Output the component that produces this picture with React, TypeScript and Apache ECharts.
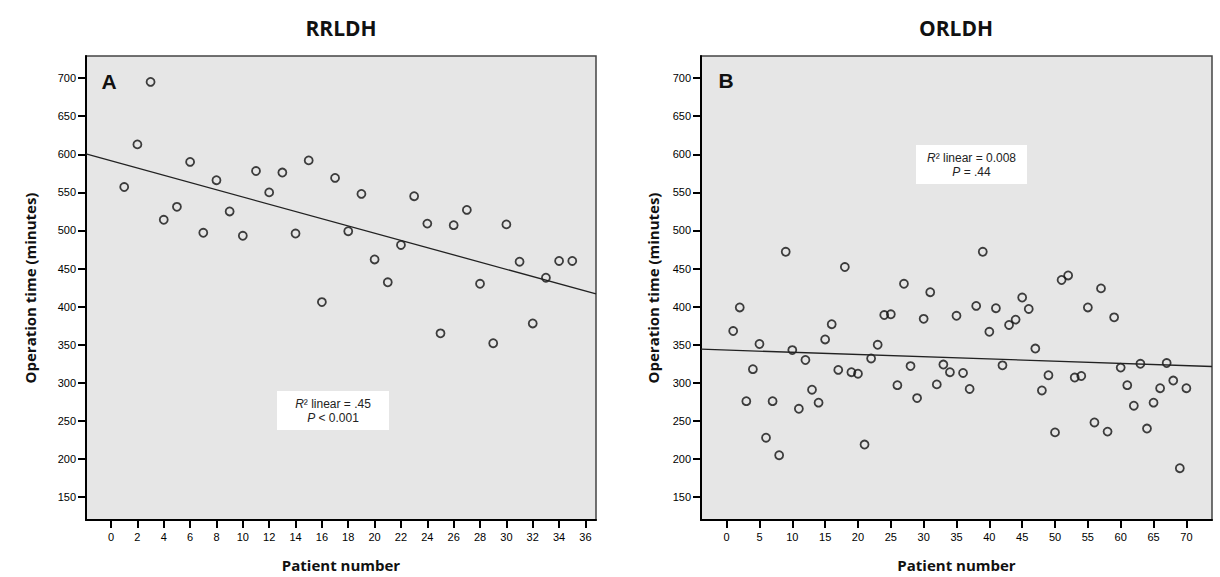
import React, { useEffect, useRef } from "react";
import * as echarts from "echarts";

// Panel A (RRLDH)
const patientsA = [1, 2, 3, 4, 5, 6, 7, 8, 9, 10, 11, 12, 13, 14, 15, 16, 17, 18, 19, 20, 21, 22, 23, 24, 25, 26, 27, 28, 29, 30, 31, 32, 33, 34, 35];
const timesA = [557, 613, 695, 514, 531, 590, 497, 566, 525, 493, 578, 550, 576, 496, 592, 406, 569, 499, 548, 462, 432, 481, 545, 509, 365, 507, 527, 430, 352, 508, 459, 378, 438, 460, 460];

// Panel B (ORLDH)
const patientsB = [1, 2, 3, 4, 5, 6, 7, 8, 9, 10, 11, 12, 13, 14, 15, 16, 17, 18, 19, 20, 21, 22, 23, 24, 25, 26, 27, 28, 29, 30, 31, 32, 33, 34, 35, 36, 37, 38, 39, 40, 41, 42, 43, 44, 45, 46, 47, 48, 49, 50, 51, 52, 53, 54, 55, 56, 57, 58, 59, 60, 61, 62, 63, 64, 65, 66, 67, 68, 69, 70];
const timesB = [368, 399, 276, 318, 351, 228, 276, 205, 472, 343, 266, 330, 291, 274, 357, 377, 317, 452, 314, 312, 219, 332, 350, 389, 390, 297, 430, 322, 280, 384, 419, 298, 324, 314, 388, 313, 292, 401, 472, 367, 398, 323, 376, 383, 412, 397, 345, 290, 310, 235, 435, 441, 307, 309, 399, 248, 424, 236, 386, 320, 297, 270, 325, 240, 274, 293, 326, 303, 188, 293];

const yTicks = [150, 200, 250, 300, 350, 400, 450, 500, 550, 600, 650, 700];
const xTicksA = [0, 2, 4, 6, 8, 10, 12, 14, 16, 18, 20, 22, 24, 26, 28, 30, 32, 34, 36];
const xTicksB = [0, 5, 10, 15, 20, 25, 30, 35, 40, 45, 50, 55, 60, 65, 70];

const titles = ["RRLDH", "ORLDH"];
const panelLetters = ["A", "B"];
const statsA = [".45", "< 0.001"];
const statsB = ["0.008", "= .44"];
const xName = "Patient number";
const yName = "Operation time (minutes)";

function fitLine(xs: number[], ys: number[], x0: number, x1: number) {
  const n = xs.length;
  const mx = xs.reduce((a, b) => a + b, 0) / n;
  const my = ys.reduce((a, b) => a + b, 0) / n;
  let sxy = 0, sxx = 0;
  for (let i = 0; i < n; i++) {
    sxy += (xs[i] - mx) * (ys[i] - my);
    sxx += (xs[i] - mx) * (xs[i] - mx);
  }
  const b = sxy / sxx;
  const a = my - b * mx;
  return [[x0, a + b * x0], [x1, a + b * x1]];
}

const AX = "#000000";
const labelFont = "Liberation Sans";
const boldFont = "Open Sans";

function xAxisCfg(gi: number, min: number, max: number, ticks: number[]) {
  return {
    gridIndex: gi, type: "value", min, max,
    axisLine: { show: true, onZero: false, lineStyle: { color: AX, width: 2 } },
    axisTick: { show: true, length: 8, customValues: ticks, lineStyle: { color: AX, width: 2 } },
    axisLabel: { customValues: ticks, color: "#000", fontSize: 11, fontFamily: labelFont, margin: 11 },
    splitLine: { show: false },
    name: xName, nameLocation: "middle", nameGap: 37,
    nameTextStyle: { color: "#111", fontSize: 15, fontWeight: "bold", fontFamily: boldFont },
  };
}

function yAxisCfg(gi: number, gap: number) {
  return {
    gridIndex: gi, type: "value", min: 120, max: 729,
    axisLine: { show: true, onZero: false, lineStyle: { color: AX, width: 2 } },
    axisTick: { show: true, length: 8, customValues: yTicks, lineStyle: { color: AX, width: 2 } },
    axisLabel: { customValues: yTicks, color: "#000", fontSize: 11, fontFamily: labelFont, margin: 10 },
    splitLine: { show: false },
    name: yName, nameLocation: "middle", nameGap: gap, nameRotate: 90,
    nameTextStyle: { color: "#111", fontSize: 15, fontWeight: "bold", fontFamily: boldFont },
  };
}

function statBox(x: number, y: number, w: number, h: number, r2: string, p: string) {
  const rich = {
    i: { fontStyle: "italic", fontSize: 12, fontFamily: labelFont, fill: "#222" },
    n: { fontSize: 12, fontFamily: labelFont, fill: "#222" },
  };
  return {
    type: "group", left: x, top: y,
    children: [
      { type: "rect", shape: { x: 0, y: 0, width: w, height: h }, style: { fill: "#ffffff" } },
      { type: "text", x: w / 2, y: 13, style: { text: `{i|R}{n|² linear = ${r2}}`, rich, align: "center", verticalAlign: "middle" } },
      { type: "text", x: w / 2, y: 27, style: { text: `{i|P}{n| ${p}}`, rich, align: "center", verticalAlign: "middle" } },
    ],
  };
}

export default function App() {
  const ref = useRef<HTMLDivElement>(null);
  useEffect(() => {
    if (!ref.current) return;
    const chart = echarts.init(ref.current, null, { renderer: "svg" });
    const minA = -1.9, maxA = 36.8, minB = -3.9, maxB = 73.9;
    const scatterStyle = { color: "rgba(0,0,0,0)", borderColor: "#111", borderWidth: 1.8 };
    chart.setOption({
      animation: false,
      backgroundColor: "#ffffff",
      grid: [
        { left: 86, right: 624, top: 56, bottom: 56, show: true, backgroundColor: "#e6e6e6", borderColor: "#444", borderWidth: 1.5 },
        { left: 701, right: 8, top: 56, bottom: 56, show: true, backgroundColor: "#e6e6e6", borderColor: "#444", borderWidth: 1.5 },
      ],
      xAxis: [xAxisCfg(0, minA, maxA, xTicksA), xAxisCfg(1, minB, maxB, xTicksB)],
      yAxis: [yAxisCfg(0, 49), yAxisCfg(1, 41)],
      series: [
        { type: "line", xAxisIndex: 0, yAxisIndex: 0, data: fitLine(patientsA, timesA, minA, maxA), showSymbol: false, lineStyle: { color: "#222", width: 1.3 }, silent: true },
        { type: "scatter", xAxisIndex: 0, yAxisIndex: 0, data: patientsA.map((p, i) => [p, timesA[i]]), symbol: "circle", symbolSize: 8, itemStyle: scatterStyle },
        { type: "line", xAxisIndex: 1, yAxisIndex: 1, data: fitLine(patientsB, timesB, minB, maxB), showSymbol: false, lineStyle: { color: "#222", width: 1.3 }, silent: true },
        { type: "scatter", xAxisIndex: 1, yAxisIndex: 1, data: patientsB.map((p, i) => [p, timesB[i]]), symbol: "circle", symbolSize: 8, itemStyle: scatterStyle },
      ],
      graphic: [
        { type: "text", x: 341, y: 28, style: { text: titles[0], fontSize: 21, fontWeight: "bold", fontFamily: boldFont, fill: "#111", align: "center", verticalAlign: "middle" } },
        { type: "text", x: 956, y: 28, style: { text: titles[1], fontSize: 21, fontWeight: "bold", fontFamily: boldFont, fill: "#111", align: "center", verticalAlign: "middle" } },
        { type: "text", x: 109, y: 81, style: { text: panelLetters[0], fontSize: 21, fontWeight: "bold", fontFamily: labelFont, fill: "#111", align: "center", verticalAlign: "middle" } },
        { type: "text", x: 726, y: 80, style: { text: panelLetters[1], fontSize: 21, fontWeight: "bold", fontFamily: labelFont, fill: "#111", align: "center", verticalAlign: "middle" } },
        statBox(277, 391, 112, 39, statsA[0], statsA[1]),
        statBox(916, 145, 111, 39, statsB[0], statsB[1]),
      ],
    });
    return () => chart.dispose();
  }, []);
  return <div ref={ref} style={{ position: "fixed", left: 0, top: 0, width: 1220, height: 577 }} />;
}
